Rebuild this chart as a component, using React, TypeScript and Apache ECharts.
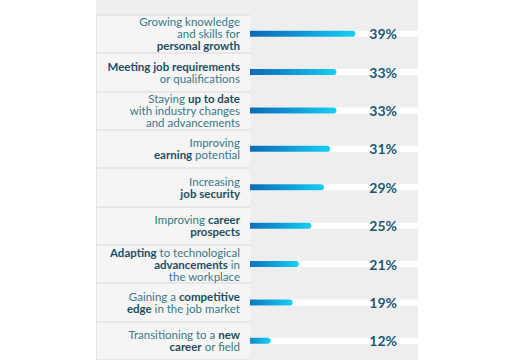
import React, { useEffect, useRef } from "react";
import * as echarts from "echarts";

const categories: string[] = [
  "Growing knowledge\nand skills for\n{b|personal growth}",
  "{b|Meeting job requirements}\nor qualifications",
  "Staying {b|up to date}\nwith industry changes\nand advancements",
  "Improving\n{b|earning} potential",
  "Increasing\n{b|job security}",
  "Improving {b|career}\n{b|prospects}",
  "{b|Adapting} to technological\n{b|advancements} in\nthe workplace",
  "Gaining a {b|competitive}\n{b|edge} in the job market",
  "Transitioning to a {b|new}\n{b|career} or field",
];

const values: number[] = [39, 33, 33, 31, 29, 25, 21, 19, 12];

const percentLabels: string[] = values.map((v) => `${v}%`);

const FONT = "Lato, 'Open Sans', sans-serif";

export default function App() {
  const ref = useRef<HTMLDivElement>(null);

  useEffect(() => {
    if (!ref.current) return;
    const chart = echarts.init(ref.current, undefined, { renderer: "svg" });
    const top = 14.5;
    const height = 351;
    chart.setOption({
      animation: false,
      backgroundColor: "#ffffff",
      graphic: [
        {
          type: "rect",
          z: -10,
          shape: { x: 96, y: 0, width: 322, height: 360 },
          style: { fill: "#eeeeee" },
        },
      ],
      grid: [
        { left: 233, right: 96, top, height },
        {
          left: 96,
          width: 154,
          top,
          height,
          show: true,
          backgroundColor: "#f5f5f5",
          borderWidth: 0,
          z: 5,
        },
      ],
      xAxis: [
        { type: "value", gridIndex: 0, min: 0, max: 59, show: false },
        { type: "value", gridIndex: 1, min: 0, max: 1, show: false },
      ],
      yAxis: [
        {
          type: "category",
          gridIndex: 0,
          data: categories,
          inverse: true,
          z: 8,
          axisLine: { show: false },
          axisTick: { show: false },
          splitLine: { show: false },
          axisLabel: {
            margin: -7,
            align: "right",
            fontFamily: FONT,
            fontSize: 11.5,
            lineHeight: 12,
            color: "#3a7888",
            rich: {
              b: {
                fontFamily: FONT,
                fontSize: 11.5,
                lineHeight: 12,
                fontWeight: "bold",
                color: "#1d4f62",
                align: "right",
              },
            },
          },
        },
        {
          type: "category",
          gridIndex: 1,
          data: categories,
          inverse: true,
          position: "right",
          z: 6,
          axisLine: { show: true, lineStyle: { color: "#e2e2e2", width: 1 } },
          axisTick: { show: false },
          axisLabel: { show: false },
          splitLine: { show: true, lineStyle: { color: "#e2e2e2", width: 1.5 } },
        },
        {
          type: "category",
          gridIndex: 0,
          data: percentLabels,
          inverse: true,
          position: "right",
          z: 8,
          axisLine: { show: false },
          axisTick: { show: false },
          splitLine: { show: false },
          axisLabel: {
            inside: true,
            margin: 21,
            align: "right",
            fontFamily: FONT,
            fontSize: 14,
            fontWeight: "bold",
            color: "#1c5770",
          },
        },
      ],
      series: [
        {
          type: "bar",
          xAxisIndex: 0,
          yAxisIndex: 0,
          data: values,
          barWidth: 6,
          z: 2,
          showBackground: true,
          backgroundStyle: { color: "#ffffff" },
          itemStyle: {
            borderRadius: [0, 3, 3, 0],
            color: new echarts.graphic.LinearGradient(0, 0, 1, 0, [
              { offset: 0, color: "#0a5aa8" },
              { offset: 0.5, color: "#0f8fd0" },
              { offset: 1, color: "#16cff3" },
            ]),
          },
        },
      ],
    });
    return () => chart.dispose();
  }, []);

  return (
    <div
      ref={ref}
      style={{ position: "fixed", left: 0, top: 0, width: 514, height: 360 }}
    />
  );
}
